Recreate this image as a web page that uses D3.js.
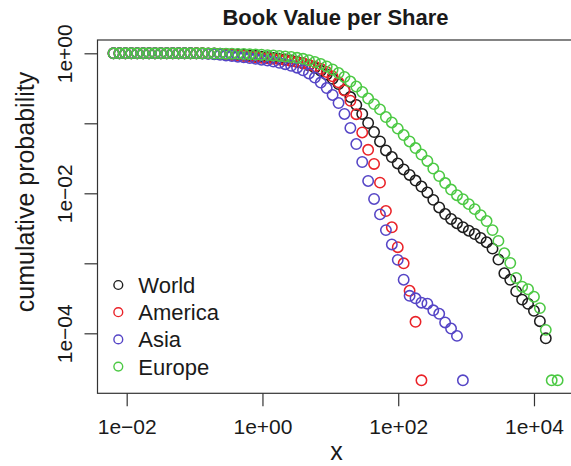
<!DOCTYPE html>
<html>
<head>
<meta charset="utf-8">
<script src="https://cdn.jsdelivr.net/npm/d3@7"></script>
<style>
  html, body { margin: 0; padding: 0; background: #ffffff; }
  svg { display: block; font-family: "Liberation Sans", Arial, Helvetica, sans-serif; }
</style>
</head>
<body>
<svg id="chart" width="571" height="466"></svg>
<script>
// Book value per share: x grid shared by all regions (log-spaced bins)
const xGrid = [0.0064, 0.00782, 0.00956, 0.01169, 0.01429, 0.01747, 0.02136, 0.0261, 0.03191, 0.039,
  0.04768, 0.05828, 0.07124, 0.0871, 0.1065, 0.1301, 0.1591, 0.1945, 0.2377, 0.2906,
  0.3552, 0.4342, 0.5308, 0.6489, 0.7932, 0.97, 1.186, 1.449, 1.772, 2.166,
  2.648, 3.237, 3.957, 4.837, 5.913, 7.229, 8.837, 10.8, 13.21, 16.14,
  19.73, 24.12, 29.49, 36.05, 44.07, 53.88, 65.86, 80.51, 98.42, 120.3,
  147.1, 179.8, 219.8, 268.7, 328.5, 401.6, 490.9, 600.1, 733.6, 896.8,
  1096, 1340, 1638, 2003, 2448, 2992, 3658, 4472, 5467, 6683,
  8170, 9986, 12210, 14920, 18240, 22300];

// Cumulative probability P(X >= x) per region, aligned with xGrid
const world = [1, 1, 1, 1, 1, 1, 1, 1, 1, 1, 1, 1, 1, 1, 1, 1,
  0.997, 0.993, 0.987, 0.981, 0.971, 0.961, 0.949, 0.933, 0.915, 0.897,
  0.880, 0.860, 0.840, 0.815, 0.789, 0.756, 0.720, 0.674, 0.620, 0.562,
  0.498, 0.432, 0.364, 0.299, 0.237, 0.183, 0.136, 0.101, 0.0750, 0.0550,
  0.0410, 0.0330, 0.0267, 0.0219, 0.0183, 0.0152, 0.0125, 0.0103, 0.00806, 0.00627,
  0.00506, 0.00430, 0.00374, 0.00328, 0.00292, 0.00262, 0.00230, 0.00200, 0.00162, 0.00113,
  0.000720, 0.000582, 0.000397, 0.000303, 0.000264, 0.000210, 0.000149, 0.0000849];

const america = [1, 1, 1, 1, 1, 1, 1, 1, 1, 1, 1, 1, 1, 1, 1,
  0.997, 0.990, 0.984, 0.974, 0.961, 0.946, 0.930, 0.915, 0.897, 0.880,
  0.866, 0.850, 0.833, 0.815, 0.795, 0.772, 0.748, 0.720, 0.688, 0.650,
  0.600, 0.540, 0.468, 0.385, 0.295, 0.210, 0.135, 0.0740, 0.0418, 0.0263,
  0.0142, 0.00558, 0.00327, 0.00170, 0.00100, 0.000405, 0.000146, 0.0000213];

const asia = [1, 1, 1, 1, 1, 1, 1, 1, 1, 1, 1, 1, 1, 1,
  0.997, 0.990, 0.981, 0.968, 0.952, 0.933, 0.915, 0.894, 0.874, 0.854,
  0.832, 0.810, 0.787, 0.761, 0.731, 0.699, 0.663, 0.623, 0.572, 0.515,
  0.451, 0.382, 0.319, 0.254, 0.195, 0.136, 0.0857, 0.0506, 0.0280, 0.0150,
  0.00830, 0.00500, 0.00298, 0.00186, 0.00112, 0.000583, 0.000343, 0.000316, 0.000274, 0.000265,
  0.000213, 0.000190, 0.000143, 0.000117, 0.0000919, 0.0000213];

const europe = [1, 1, 1, 1, 1, 1, 1, 1, 1, 1, 1, 1, 1, 1, 1, 1,
  0.997, 0.993, 0.990, 0.987, 0.984, 0.981, 0.977, 0.971, 0.961, 0.952,
  0.942, 0.930, 0.918, 0.903, 0.885, 0.862, 0.834, 0.797, 0.751, 0.703,
  0.648, 0.587, 0.523, 0.459, 0.395, 0.335, 0.280, 0.226, 0.188, 0.158,
  0.123, 0.103, 0.0840, 0.0680, 0.0550, 0.0443, 0.0358, 0.0290, 0.0226, 0.0176,
  0.0140, 0.0113, 0.00940, 0.00824, 0.00700, 0.00594, 0.00488, 0.00402, 0.00298, 0.00209,
  0.00139, 0.00101, 0.000617, 0.000463, 0.000426, 0.000333, 0.000229, 0.000112, 0.0000213, 0.0000213];

const seriesNames = ["World", "America", "Asia", "Europe"];
const seriesColors = ["#1e1e1e", "#ea2228", "#5545c6", "#4cc944"];

const xTickValues = [1e-2, 1, 1e2, 1e4];
const xTickLabels = ["1e\u221202", "1e+00", "1e+02", "1e+04"];
const yTickValues = [1, 1e-1, 1e-2, 1e-3, 1e-4];
const yTickLabels = ["1e+00", "", "1e\u221202", "", "1e\u221204"];

const titleText = "Book Value per Share";
const xLabel = "x";
const yLabel = "cumulative probability";

// ---- layout ----
const plot = { left: 97.5, right: 572, top: 40, bottom: 393.3 };

const x = d3.scaleLog()
  .domain([Math.pow(10, -2.430), Math.pow(10, 4.560)])
  .range([plot.left, plot.right]);
const y = d3.scaleLog()
  .domain([Math.pow(10, -4.857), Math.pow(10, 0.19)])
  .range([plot.bottom, plot.top]);

const svg = d3.select("#chart");
const ink = "#1a1a1a";

// plot frame
svg.append("rect")
  .attr("x", plot.left).attr("y", plot.top)
  .attr("width", plot.right - plot.left).attr("height", plot.bottom - plot.top)
  .attr("fill", "none").attr("stroke", "#333").attr("stroke-width", 1.2);

// x axis
const gx = svg.append("g")
  .attr("transform", `translate(0,${plot.bottom})`)
  .call(d3.axisBottom(x).tickValues(xTickValues)
    .tickFormat((d, i) => xTickLabels[i]).tickSize(13).tickSizeOuter(0));
gx.select(".domain").remove();
gx.selectAll(".tick line").attr("stroke", "#333").attr("stroke-width", 1.2);
gx.selectAll(".tick text")
  .attr("y", 40.7).attr("dy", null)
  .attr("fill", ink).attr("font-size", 21)
  .attr("font-family", "Liberation Sans, Arial, sans-serif");

// y axis
const gy = svg.append("g")
  .attr("transform", `translate(${plot.left},0)`)
  .call(d3.axisLeft(y).tickValues(yTickValues)
    .tickFormat((d, i) => yTickLabels[i]).tickSize(13).tickSizeOuter(0));
gy.select(".domain").remove();
gy.selectAll(".tick line").attr("stroke", "#333").attr("stroke-width", 1.2);
gy.selectAll(".tick text")
  .attr("x", 0).attr("y", 0).attr("dy", null)
  .attr("text-anchor", "middle")
  .attr("transform", "translate(-25.8,0) rotate(-90)")
  .attr("fill", ink).attr("font-size", 21)
  .attr("font-family", "Liberation Sans, Arial, sans-serif");

// title and axis titles
svg.append("text")
  .attr("x", 335.5).attr("y", 25)
  .attr("text-anchor", "middle")
  .attr("font-size", 22).attr("font-weight", "bold").attr("fill", ink)
  .text(titleText);

svg.append("text")
  .attr("x", 336.5).attr("y", 460)
  .attr("text-anchor", "middle")
  .attr("font-size", 25).attr("fill", ink)
  .text(xLabel);

svg.append("text")
  .attr("transform", "translate(34,192) rotate(-90)")
  .attr("text-anchor", "middle")
  .attr("font-size", 25).attr("fill", ink)
  .text(yLabel);

// data points, one open circle per bin
const allSeries = [world, america, asia, europe];
allSeries.forEach((vals, s) => {
  svg.append("g")
    .selectAll("circle")
    .data(vals.map((v, i) => ({ x: xGrid[i], p: v })))
    .join("circle")
    .attr("cx", d => x(d.x))
    .attr("cy", d => y(d.p))
    .attr("r", 5.2)
    .attr("fill", "none")
    .attr("stroke", seriesColors[s])
    .attr("stroke-width", 1.55);
});

// legend
const legend = svg.append("g").attr("transform", "translate(118.3,285)");
seriesNames.forEach((name, i) => {
  const row = legend.append("g").attr("transform", `translate(0,${i * 27.2})`);
  row.append("circle")
    .attr("r", 4.4).attr("fill", "none")
    .attr("stroke", seriesColors[i]).attr("stroke-width", 1.4);
  row.append("text")
    .attr("x", 20).attr("y", 8)
    .attr("font-size", 22).attr("fill", ink)
    .text(name);
});
</script>
</body>
</html>
